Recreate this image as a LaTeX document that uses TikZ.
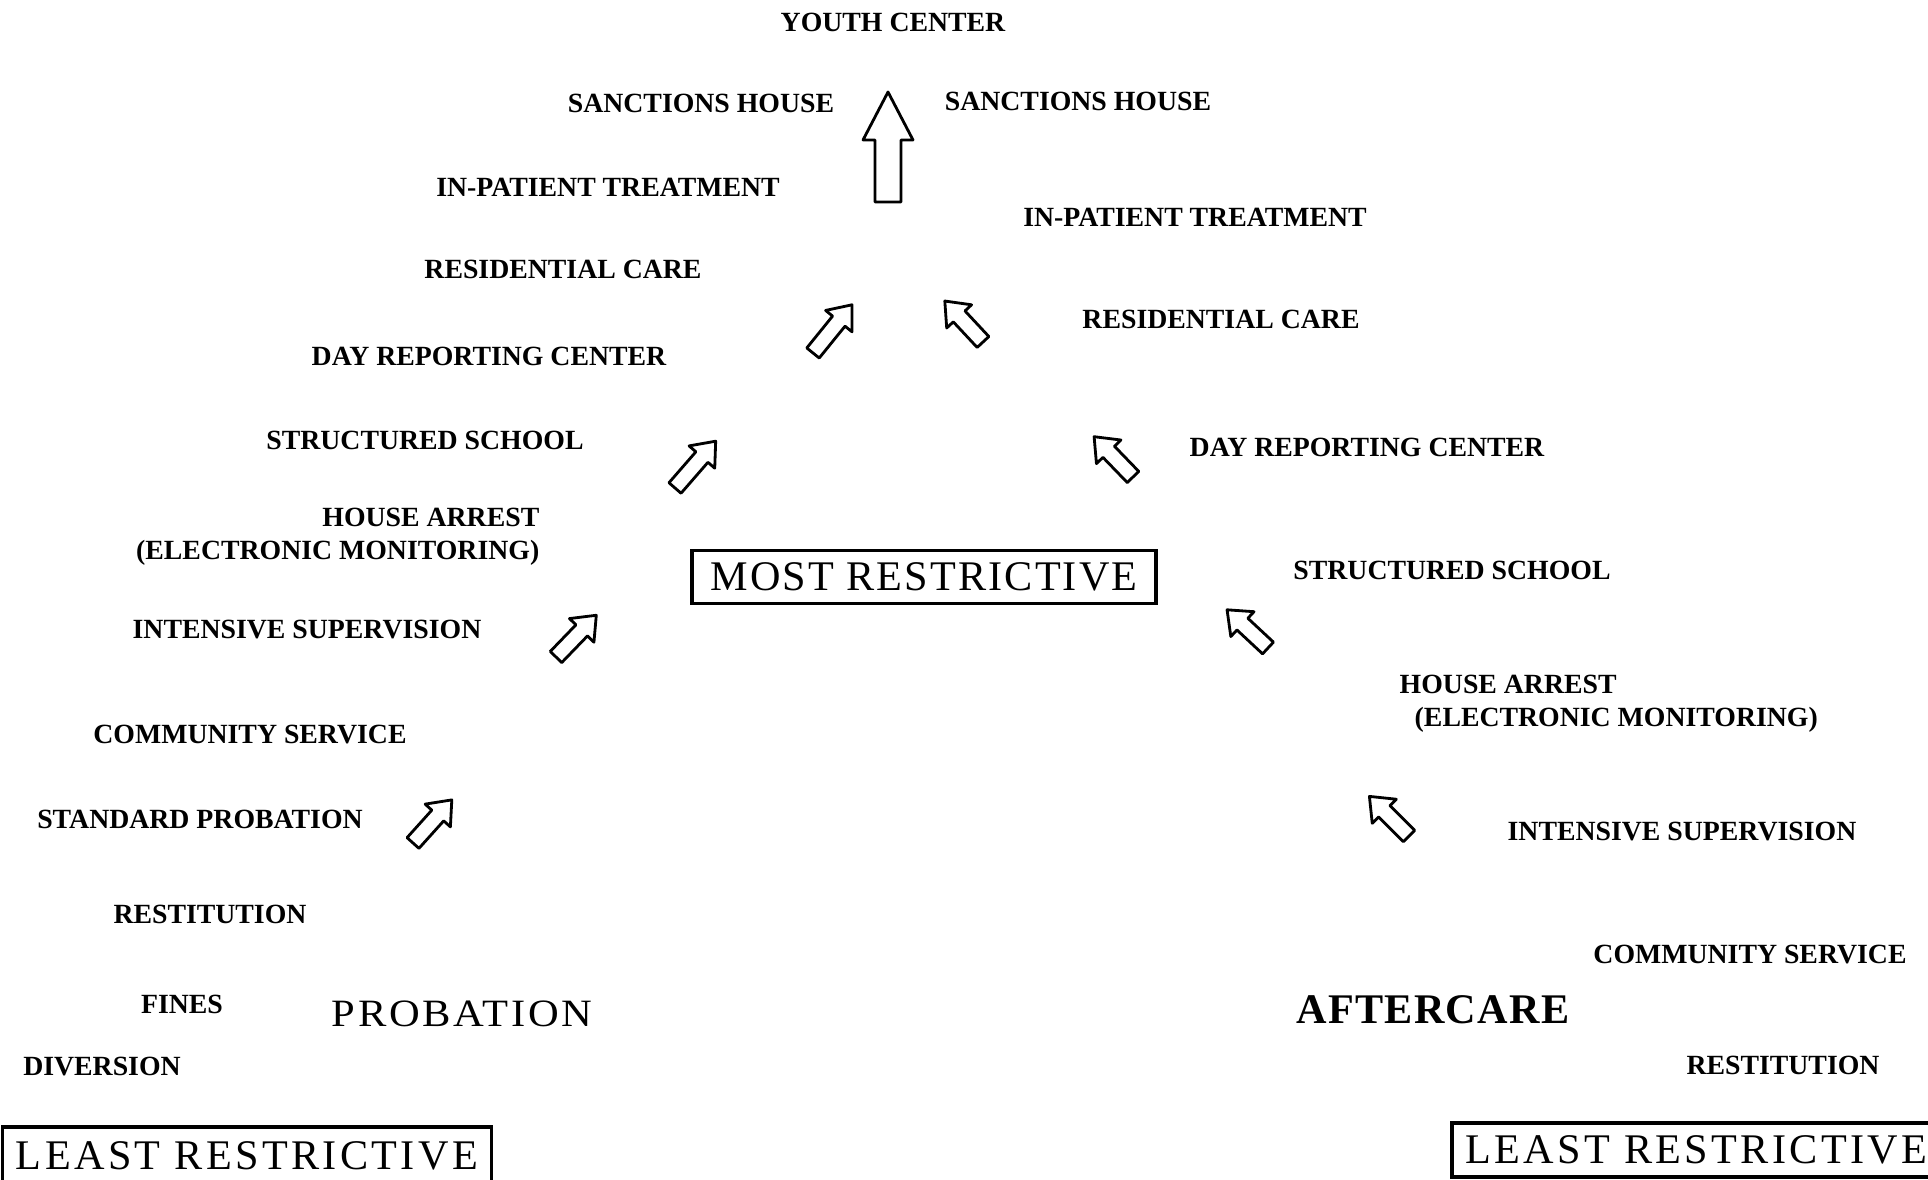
\documentclass[tikz,border=0pt]{standalone}
\usepackage{fontspec}
\setmainfont{Liberation Serif}

\tikzset{
  lbl/.style={font=\fontsize{7.9pt}{8pt}\selectfont\bfseries, inner sep=0pt, anchor=base},
  headtxt/.style={font=\fontsize{12pt}{12pt}\selectfont\bfseries\addfontfeature{LetterSpace=3}, inner sep=0pt, anchor=base},
  probtxt/.style={font=\fontsize{11pt}{11pt}\selectfont\addfontfeature{FakeStretch=1.1,LetterSpace=7}, inner sep=0pt, anchor=base},
  boxed/.style={draw, line width=1pt, inner sep=0pt, minimum height=0.54cm,
    font=\fontsize{12pt}{12pt}\selectfont\addfontfeature{LetterSpace=#1}},
  pics/blk/.style n args={4}{code={
    \draw[line width=0.8pt, line join=round]
      (0,-#4) -- ({#1-#2},-#4) -- ({#1-#2},-#3) -- (#1,0)
      -- ({#1-#2},#3) -- ({#1-#2},#4) -- (0,#4) -- cycle;
  }},
}

\begin{document}
\begin{tikzpicture}[x=0.01cm, y=-0.01cm]
		\clip (0,0) rectangle (1928,1180);
		% top
		\node[lbl] (youth) at (893,32) {YOUTH CENTER};
		\pic[rotate=90] (up) at (888,202) {blk={110}{48}{25}{13}};
		\node[boxed=5, minimum width=4.64cm, minimum height=0.53cm] (most) at (924,577) {MOST RESTRICTIVE};
		% probation side
		\node[lbl] (sanL) at (701,113) {SANCTIONS HOUSE};
		\node[lbl] (inpL) at (608,197) {IN-PATIENT TREATMENT};
		\node[lbl] (resL) at (563,279) {RESIDENTIAL CARE};
		\node[lbl] (dayL) at (489,366) {DAY REPORTING CENTER};
		\node[lbl] (schL) at (425,450) {STRUCTURED SCHOOL};
		\node[lbl, anchor=base east] (haL) at (540,527) {HOUSE ARREST};
		\node[lbl, anchor=base east] (emL) at (540,560) {(ELECTRONIC MONITORING)};
		\node[lbl] (intL) at (307,639) {INTENSIVE SUPERVISION};
		\node[lbl] (comL) at (250,743) {COMMUNITY SERVICE};
		\node[lbl] (stdL) at (200,828) {STANDARD PROBATION};
		\node[lbl] (rstL) at (210,923) {RESTITUTION};
		\node[lbl] (fin) at (182,1013) {FINES};
		\node[lbl] (div) at (102,1075) {DIVERSION};
		\node[probtxt] (prob) at (462,1026) {PROBATION};
		\node[boxed=8, minimum width=4.89cm, minimum height=0.58cm] (leastL) at (247,1156) {LEAST RESTRICTIVE};
		\pic[rotate=51] (aL1) at (813,353) {blk={62}{21}{17}{8}};
		\pic[rotate=49] (aL2) at (675,488) {blk={62}{21}{17}{8}};
		\pic[rotate=46] (aL3) at (556,657) {blk={58}{21}{17}{8}};
		\pic[rotate=48] (aL4) at (413,843) {blk={58}{21}{17}{8}};
		% aftercare side
		\node[lbl] (sanR) at (1078,111) {SANCTIONS HOUSE};
		\node[lbl] (inpR) at (1195,227) {IN-PATIENT TREATMENT};
		\node[lbl] (resR) at (1221,329) {RESIDENTIAL CARE};
		\node[lbl] (dayR) at (1367,457) {DAY REPORTING CENTER};
		\node[lbl] (schR) at (1452,580) {STRUCTURED SCHOOL};
		\node[lbl, anchor=base west] (haR) at (1399,694) {HOUSE ARREST};
		\node[lbl, anchor=base west] (emR) at (1414,727) {(ELECTRONIC MONITORING)};
		\node[lbl] (intR) at (1682,840) {INTENSIVE SUPERVISION};
		\node[lbl] (comR) at (1750,963) {COMMUNITY SERVICE};
		\node[lbl] (rstR) at (1783,1074) {RESTITUTION};
		\node[headtxt] (after) at (1433,1023) {AFTERCARE};
		\node[boxed=8, anchor=west, minimum width=4.89cm] (leastR) at (1450,1150) {LEAST RESTRICTIVE};
		\pic[rotate=133] (aR1) at (983,342) {blk={56}{21}{17}{8}};
		\pic[rotate=134] (aR2) at (1133,477) {blk={56}{21}{17}{8}};
		\pic[rotate=137] (aR3) at (1268,648) {blk={56}{21}{17}{8}};
		\pic[rotate=135] (aR4) at (1409,836) {blk={56}{21}{17}{8}};
	\end{tikzpicture}
\end{document}
